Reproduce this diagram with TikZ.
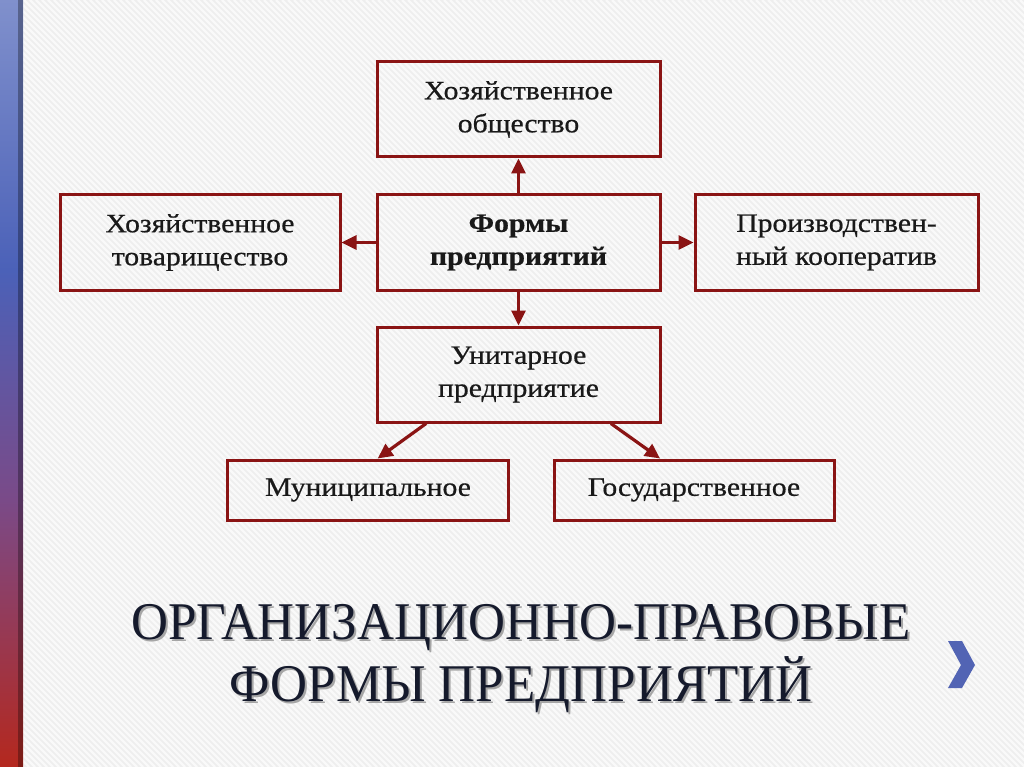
\documentclass[tikz,border=0pt]{standalone}
\usepackage{fontspec}
\setmainfont{Liberation Serif}
\newfontfamily\boxfont[FakeStretch=1.12,FakeBold=0.6]{Liberation Serif}
\newfontfamily\ttlfont[FakeStretch=0.966]{Liberation Serif}
\usetikzlibrary{arrows.meta,calc}
\definecolor{frame}{HTML}{8A1414}
\definecolor{bgc}{HTML}{EEEEEE}
\definecolor{stripe}{HTML}{F9F9F9}
\definecolor{ttl}{HTML}{151A2C}
\definecolor{chev}{HTML}{5264B4}
\definecolor{sA}{HTML}{8090CC}
\definecolor{sB}{HTML}{4B61B8}
\definecolor{sC}{HTML}{7A4A88}
\definecolor{sD}{HTML}{B4281E}
\begin{document}
\begin{tikzpicture}[x=1pt,y=-1pt,
  box/.style={draw=frame, line width=3pt, inner sep=0pt, align=center, text=black!90,
    font={\boxfont\fontsize{26.5}{33}\selectfont}},
  arr/.style={draw=frame, line width=3.2pt, -{Triangle[length=15pt,width=14pt]}},
  ttlstyle/.style={inner sep=0pt, anchor=base, text=ttl, font={\ttlfont\fontsize{53}{62}\selectfont}},
  shadowstyle/.style={inner sep=0pt, anchor=base, text=black!35, font={\ttlfont\fontsize{53}{62}\selectfont}}]
% background
\fill[bgc] (0,0) rectangle (1024,767);
\begin{scope}
\clip (0,0) rectangle (1024,767);
\foreach \i in {-130,...,170}{
  \draw[stripe, line width=2.4pt] (\i*6,0) -- (\i*6+767,767);
}
\end{scope}
\useasboundingbox (0,0) rectangle (1024,767);
% left stripe
\shade[top color=sA, bottom color=sB] (0,0) rectangle (23,270);
\shade[top color=sB, bottom color=sC] (0,270) rectangle (23,500);
\shade[top color=sC, bottom color=sD] (0,500) rectangle (23,767);
\fill[black, opacity=0.3] (18,0) rectangle (23,767);
% boxes
\node[box, minimum width=283pt, minimum height=95pt] (top) at (518.5,109.5) {Хозяйственное\\общество};
\node[box, minimum width=283pt, minimum height=95pt] (ctr) at (518.5,242.5) {\bfseries Формы\\\bfseries предприятий};
\node[box, minimum width=280pt, minimum height=95pt] (lft) at (200,242.5) {Хозяйственное\\товарищество};
\node[box, minimum width=283pt, minimum height=95pt] (rgt) at (836.5,242.5) {Производствен-\\ный кооператив};
\node[box, minimum width=283pt, minimum height=95pt] (uni) at (518.5,374.5) {Унитарное\\предприятие};
\node[box, minimum width=281pt, minimum height=60pt] (mun) at (368,490) {Муниципальное};
\node[box, minimum width=280pt, minimum height=60pt] (gos) at (694,490) {Государственное};
% arrows
\draw[arr] (ctr.north) -- (top.south);
\draw[arr] (ctr.south) -- (uni.north);
\draw[arr] (ctr.west) -- (lft.east);
\draw[arr] (ctr.east) -- (rgt.west);
\draw[arr] ($(uni.south west)!0.177!(uni.south east)$) -- ($(mun.north west)!0.534!(mun.north east)$);
\draw[arr] ($(uni.south west)!0.823!(uni.south east)$) -- ($(gos.north west)!0.38!(gos.north east)$);
% title
\node[shadowstyle] (t1s) at (523,641) {ОРГАНИЗАЦИОННО-ПРАВОВЫЕ};
\node[shadowstyle] (t2s) at (523,703) {ФОРМЫ ПРЕДПРИЯТИЙ};
\node[ttlstyle] (t1) at (521,639) {ОРГАНИЗАЦИОННО-ПРАВОВЫЕ};
\node[ttlstyle] (t2) at (521,701) {ФОРМЫ ПРЕДПРИЯТИЙ};
% chevron
\fill[chev] (948,641) -- (962,641) -- (975,665) -- (962,688) -- (948,688) -- (961,665) -- cycle;
\end{tikzpicture}
\end{document}
